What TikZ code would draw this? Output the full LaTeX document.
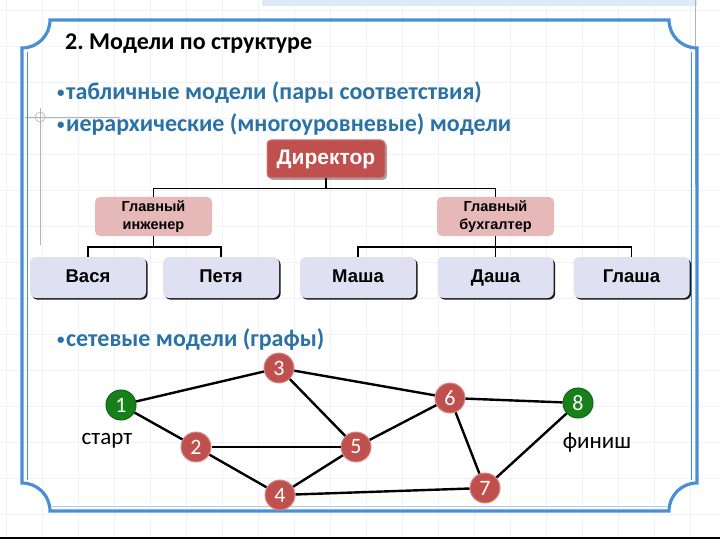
\documentclass[tikz,border=0pt]{standalone}
\usepackage{fontspec}
\setmainfont{Carlito}
\newfontfamily\arialf{Liberation Sans}
\usetikzlibrary{shadows}
\definecolor{frameblue}{HTML}{4A8FD6}
\definecolor{framelight}{HTML}{A9CBEE}
\definecolor{bullblue}{HTML}{2A72A6}
\definecolor{dirred}{HTML}{C0504D}
\definecolor{mgrpink}{HTML}{E6B9B8}
\definecolor{leafblue}{HTML}{DFE0F2}
\definecolor{gnode}{HTML}{17801A}
\definecolor{gridc}{HTML}{F0F2F5}
\newcommand{\bdot}{\raisebox{2.5pt}{\fontsize{15}{15}\selectfont•}\kern1.5pt}
\tikzset{
  dirbox/.style={rectangle, rounded corners=4pt, fill=dirred, draw=dirred!75!white, line width=1pt,
    minimum width=118pt, minimum height=38pt, text=white, font=\arialf\bfseries\fontsize{21}{23}\selectfont,
    text height=15pt, text depth=3pt,
    drop shadow={shadow xshift=2pt, shadow yshift=-2pt, fill=black, opacity=0.35}},
  mgrbox/.style={rectangle, rounded corners=5pt, fill=mgrpink, minimum width=117pt, minimum height=39pt,
    align=center, inner sep=1pt, font=\arialf\bfseries\fontsize{14.5}{18}\selectfont},
  leafbox/.style={rectangle, rounded corners=6pt, fill=leafblue, minimum width=116pt, minimum height=41pt,
    font=\arialf\bfseries\fontsize{18.5}{20}\selectfont, text height=13.5pt, text depth=3pt,
    drop shadow={shadow xshift=1.6pt, shadow yshift=-1.6pt, fill=black, opacity=0.9}},
  orgline/.style={line width=1.8pt, black},
  rnode/.style={circle, minimum size=30pt, inner sep=0pt, fill=dirred, draw=dirred!65!white, line width=1pt,
    text=white, font=\fontsize{22}{24}\selectfont},
  gnodest/.style={rnode, fill=gnode, draw=gnode!80!black},
  edge/.style={line width=2.4pt, black},
  bullet/.style={anchor=west, inner sep=0pt, text=bullblue, font=\bfseries\fontsize{24}{26}\selectfont},
  lbl/.style={inner sep=0pt, font=\fontsize{23}{25}\selectfont}
}
\begin{document}
\begin{tikzpicture}[x=1pt,y=-1pt]
\useasboundingbox (0,0) rectangle (720,540);
\fill[white] (0,0) rectangle (720,540);
% faint grid
\foreach \gx in {6,42,...,720} {\draw[gridc, line width=0.6pt] (\gx,0) -- (\gx,536);}
\foreach \gy in {10,46,...,536} {\draw[gridc, line width=0.6pt] (0,\gy) -- (720,\gy);}
% top band and guide artefacts
\fill[framelight!40] (262,0) rectangle (697,6);
\draw[gray!60, line width=0.6pt] (695,0) -- (695,185);
\draw[gray!60, line width=0.6pt] (25,117) -- (120,117);
\draw[gray!60, line width=0.6pt] (40,108) -- (40,245);
\draw[gray!60, line width=0.6pt] (40,117) circle[radius=5pt];
% frame
\draw[frameblue, line width=3.2pt]
  (50,20) -- (669,20) .. controls (669,35.5) and (681.5,48) .. (697,48)
  -- (697,483) .. controls (681.5,483) and (669,495.5) .. (669,511)
  -- (50,511) .. controls (50,495.5) and (37.5,483) .. (22,483)
  -- (22,48) .. controls (37.5,48) and (50,35.5) .. cycle;
\draw[frameblue, line width=1pt] (27.5,52) -- (27.5,480);
\draw[frameblue, line width=1pt] (691.5,52) -- (691.5,480);
\draw[framelight, line width=1pt] (52,506) -- (667,506);
% bottom black line
\draw[black, line width=2pt] (0,538) -- (720,538);
% texts
\node[anchor=west, inner sep=0pt, font=\bfseries\fontsize{24}{26}\selectfont] (title) at (65,44) {2.\ Модели по структуре};
\node[bullet] (b1) at (57,93) {\bdot табличные модели (пары соответствия)};
\node[bullet] (b2) at (57,125) {\bdot иерархические (многоуровневые) модели};
\node[bullet] (b3) at (57,340) {\bdot сетевые модели (графы)};
% org chart
\node[dirbox] (dir) at (326,159) {Директор};
\node[mgrbox] (eng) at (153.5,216.5) {Главный\\инженер};
\node[mgrbox] (acc) at (495.5,216.5) {Главный\\бухгалтер};
\node[leafbox] (vasya) at (88,277.5) {Вася};
\node[leafbox] (petya) at (221,277.5) {Петя};
\node[leafbox] (masha) at (358,277.5) {Маша};
\node[leafbox] (dasha) at (495.5,277.5) {Даша};
\node[leafbox] (glasha) at (631.5,277.5) {Глаша};
\draw[orgline] (dir.south) -- ++(0,10) -| (eng.north);
\draw[orgline] (dir.south) -- ++(0,10) -| (acc.north);
\draw[orgline] (eng.south) -- ++(0,11) -| (vasya.north);
\draw[orgline] (eng.south) -- ++(0,11) -| (petya.north);
\draw[orgline] (acc.south) -- ++(0,11) -| (masha.north);
\draw[orgline] (acc.south) -- (dasha.north);
\draw[orgline] (acc.south) -- ++(0,11) -| (glasha.north);
% graph
\node[gnodest] (n1) at (121,405) {1};
\node[rnode] (n2) at (196,447) {2};
\node[rnode] (n3) at (279,368) {3};
\node[rnode] (n4) at (280,495) {4};
\node[rnode] (n5) at (356,447) {5};
\node[rnode] (n6) at (450,398) {6};
\node[rnode] (n7) at (485,488) {7};
\node[gnodest] (n8) at (578,403) {8};
\node[lbl] (start) at (107,441) {старт};
\node[lbl] (finish) at (597,443) {финиш};
\foreach \a/\b in {n1/n3, n1/n2, n2/n5, n2/n4, n3/n5, n3/n6, n5/n4, n5/n6, n6/n8, n6/n7, n4/n7, n7/n8}
  \draw[edge] (\a) -- (\b);
\end{tikzpicture}
\end{document}
